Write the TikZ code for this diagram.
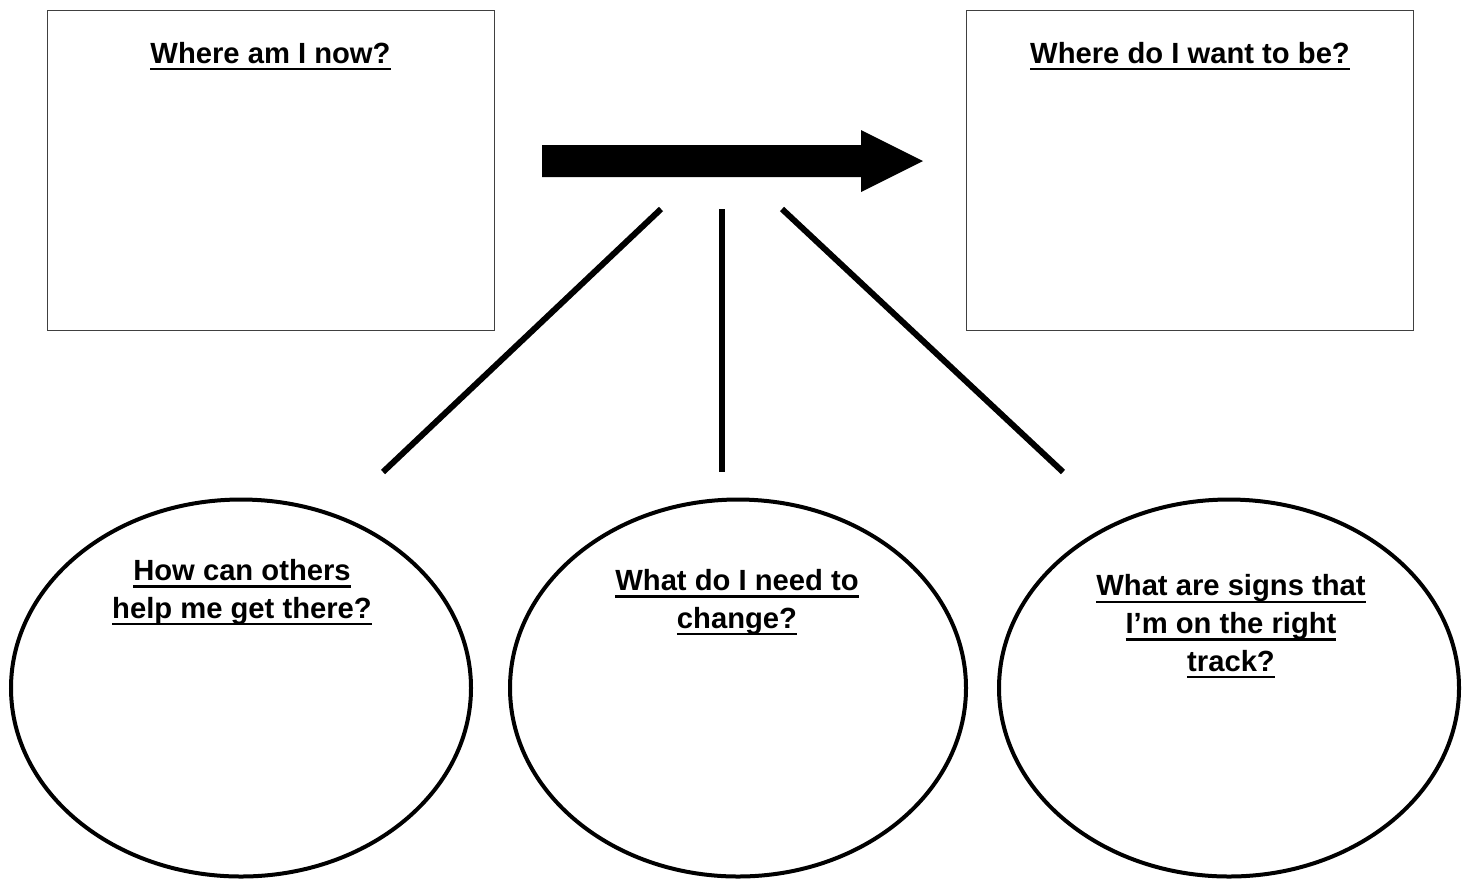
\documentclass[tikz,border=0pt]{standalone}
\usepackage{fontspec}
\setmainfont{Liberation Sans}
\usetikzlibrary{shapes.geometric}

\newcommand{\undl}[1] % one underlined line of a heading
{%
	\setbox0\hbox{#1}%
	\rlap{\rule[-3.6pt]{\wd0}{1.2pt}}\box0%
}

\tikzset{
	pane/.style={draw=black!75, line width=0.5pt, minimum width=223.5pt, minimum height=160pt, inner sep=0pt},
	bubble/.style={ellipse, draw, line width=2pt, minimum width=230pt, minimum height=188.5pt, inner sep=0pt},
	heading/.style={font=\bfseries\fontsize{14.6}{18.8}\selectfont, align=center, anchor=base, inner sep=0pt},
	spoke/.style={line width=3pt}
}

\begin{document}
\begin{tikzpicture}[x=0.5pt, y=-0.5pt]
	% 1 unit = 1 px of the sheet, base = last line of a heading
	\useasboundingbox (0,0) rectangle (1470,880);
	
	\node[pane] (now) at (270.5,170) {};
	\node[pane] (want) at (1190,170) {};
	\node[heading] (nowtxt) at (270.5,63) {\undl{Where am I now?}};
	\node[heading] (wanttxt) at (1190,63) {\undl{Where do I want to be?}};
	
	% big arrow
	\fill (542,145) -- (861,145) -- (861,130) -- (923,161) -- (861,192) -- (861,177) -- (542,177) -- cycle;
	
	\node[bubble] (help) at (241,688) {};
	\node[bubble, minimum width=228pt] (change) at (738,688) {};
	\node[bubble] (signs) at (1229,688) {};
	\node[heading] (helptxt) at (242,618) {\undl{How can others}\\\undl{help me get there?}};
	\node[heading] (changetxt) at (737,628) {\undl{What do I need to}\\\undl{change?}};
	\node[heading] (signstxt) at (1231,671) {\undl{What are signs that}\\\undl{I’m on the right}\\\undl{track?}};
	
	\coordinate (l1) at (661,209);
	\coordinate (l2) at (383,472);
	\coordinate (m1) at (722,209);
	\coordinate (m2) at (722,472);
	\coordinate (r1) at (782,209);
	\coordinate (r2) at (1063,472);
	\draw[spoke] (l1) -- (l2);
	\draw[spoke] (m1) -- (m2);
	\draw[spoke] (r1) -- (r2);
\end{tikzpicture}
\end{document}
